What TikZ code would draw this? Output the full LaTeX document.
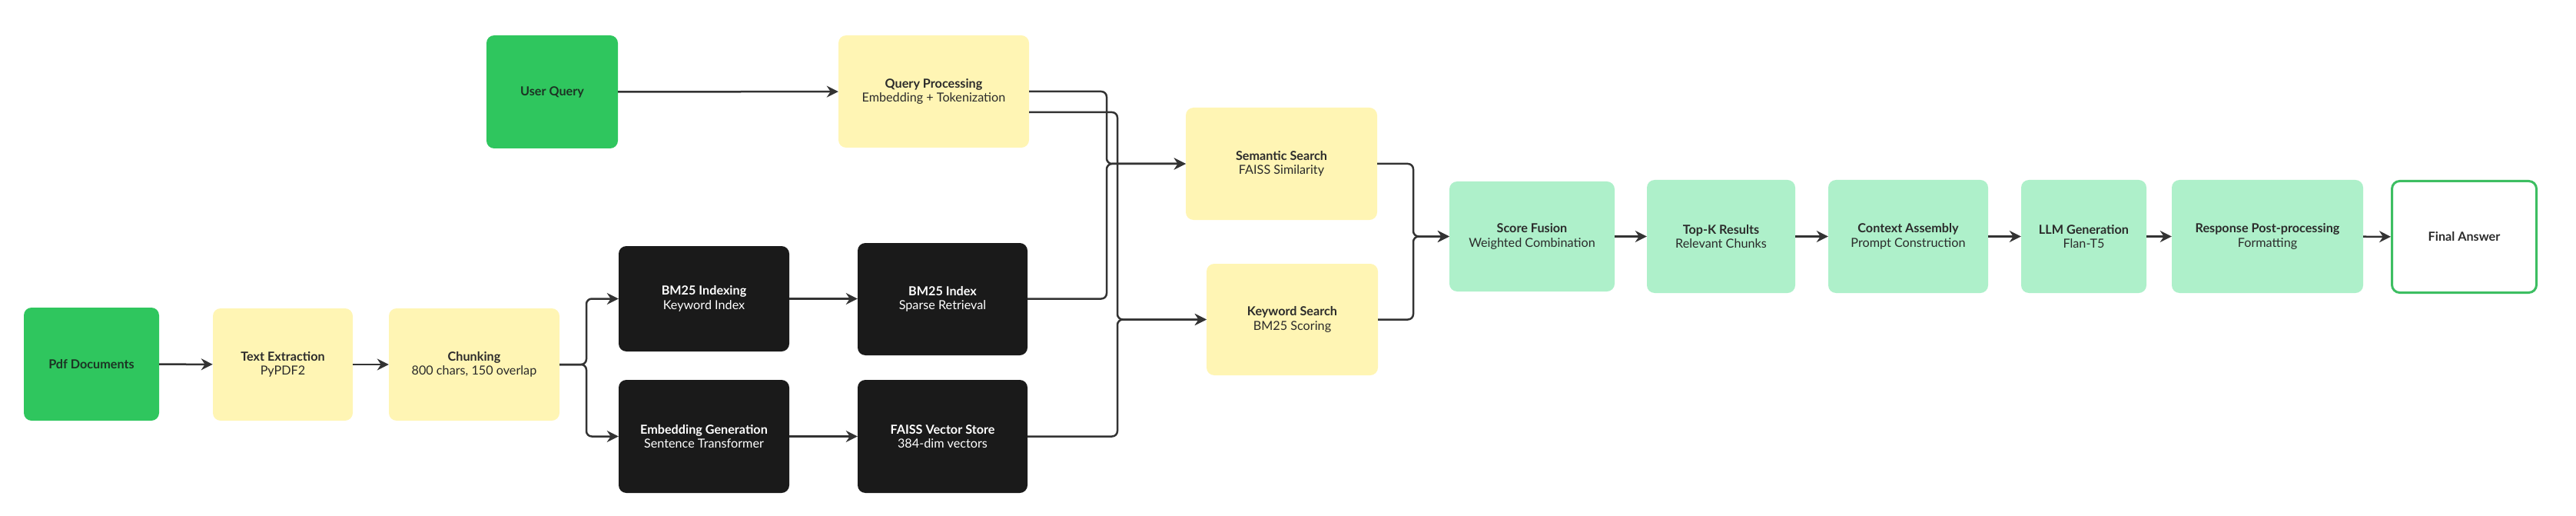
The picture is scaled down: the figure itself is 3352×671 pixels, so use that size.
\documentclass[tikz,border=0pt]{standalone}
\usepackage{fontspec}
\setmainfont{Lato}
\usetikzlibrary{arrows.meta,calc,positioning}

\definecolor{boxgreen}{HTML}{2FC65E}
\definecolor{boxyellow}{HTML}{FFF5B4}
\definecolor{boxmint}{HTML}{AEF0CA}
\definecolor{boxblack}{HTML}{1A1A1A}
\definecolor{linegray}{HTML}{333333}
\definecolor{textdark}{HTML}{2B2B2B}
\definecolor{textgreen}{HTML}{1C3324}
\definecolor{edgegreen}{HTML}{3DBE62}

\begin{document}
\begin{tikzpicture}[x=1pt,y=-1pt,
  every node/.style={align=center,rounded corners=10pt,inner sep=4pt,font=\fontsize{16.2}{18.5}\selectfont},
  greenbox/.style={fill=boxgreen,text=textgreen,minimum height=147},
  yellowbox/.style={fill=boxyellow,text=textdark,minimum height=146},
  blackbox/.style={fill=boxblack,text=white,minimum height=147},
  mintbox/.style={fill=boxmint,text=textdark,minimum height=147},
  outbox/.style={draw=edgegreen,line width=3pt,fill=white,text=textdark,minimum height=145},
  flow/.style={draw=linegray,line width=2.5pt,rounded corners=7pt,-{Stealth[length=15pt,width=15pt]}},
  link/.style={draw=linegray,line width=2.5pt,rounded corners=7pt}]
\useasboundingbox (0,0) rectangle (3352,671);

% input side
\node [greenbox,minimum width=176] (PdfDocs) at (119,473.5) {\textbf{Pdf Documents}};
\node [yellowbox,minimum width=182] (TextExtraction) at (368,474) {\textbf{Text Extraction}\\PyPDF2};
\node [yellowbox,minimum width=222] (Chunking) at (617,474) {\textbf{Chunking}\\800 chars, 150 overlap};
\node [blackbox,minimum width=222,minimum height=137] (BMIndexing) at (916,388.5) {\textbf{BM25 Indexing}\\Keyword Index};
\node [blackbox,minimum width=221,minimum height=146] (BMIndex) at (1226.5,389) {\textbf{BM25 Index}\\Sparse Retrieval};
\node [blackbox,minimum width=222] (EmbGen) at (916,567.5) {\textbf{Embedding Generation}\\Sentence Transformer};
\node [blackbox,minimum width=221] (FaissStore) at (1226.5,567.5) {\textbf{FAISS Vector Store}\\384-dim vectors};

% query side
\node [greenbox,minimum width=171] (UserQuery) at (718.5,119.5) {\textbf{User Query}};
\node [yellowbox,minimum width=248] (QueryProc) at (1215,119) {\textbf{Query Processing}\\Embedding + Tokenization};

% retrieval
\node [yellowbox,minimum width=249] (SemSearch) at (1667.5,213) {\textbf{Semantic Search}\\FAISS Similarity};
\node [yellowbox,minimum width=223,minimum height=145] (KeySearch) at (1681.5,415.5) {\textbf{Keyword Search}\\BM25 Scoring};

% answer side
\node [mintbox,minimum width=215,minimum height=143] (ScoreFusion) at (1993.5,307.5) {\textbf{Score Fusion}\\Weighted Combination};
\node [mintbox,minimum width=193] (TopK) at (2239.5,307.5) {\textbf{Top-K Results}\\Relevant Chunks};
\node [mintbox,minimum width=208] (ContextAsm) at (2483,307.5) {\textbf{Context Assembly}\\Prompt Construction};
\node [mintbox,minimum width=163] (LLMGen) at (2711.5,307.5) {\textbf{LLM Generation}\\Flan-T5};
\node [mintbox,minimum width=249] (PostProc) at (2950.5,307.5) {\textbf{Response Post-processing}\\Formatting};
\node [outbox,minimum width=188] (FinalAnswer) at (3206.5,308) {\textbf{Final Answer}};

% bus lines
\coordinate (ChunkBus) at (763,0);
\coordinate (SemBus) at (1440,0);
\coordinate (KeyBus) at (1454,0);
\coordinate (FuseBus) at (1839,0);

\draw [flow] (PdfDocs) -- (TextExtraction);
\draw [flow] (TextExtraction) -- (Chunking);
\draw [flow] (Chunking.east) -- (Chunking.east -| ChunkBus) |- (BMIndexing.west);
\draw [flow] (Chunking.east) -- (Chunking.east -| ChunkBus) |- (EmbGen.west);
\draw [flow] (BMIndexing) -- (BMIndexing -| BMIndex.west);
\draw [flow] (EmbGen) -- (FaissStore);
\draw [flow] (UserQuery) -- (QueryProc);
\draw [flow] (QueryProc.east) -- (QueryProc.east -| SemBus) |- (SemSearch.west);
\draw [flow] ($(QueryProc.east)+(0,27)$) -- ($(QueryProc.east -| KeyBus)+(0,27)$) |- (KeySearch.west);
\draw [flow] (BMIndexing -| BMIndex.east) -- (BMIndexing -| SemBus) |- (SemSearch.west);
\draw [flow] (FaissStore.east) -- (FaissStore.east -| KeyBus) |- (KeySearch.west);
\draw [flow] (SemSearch.east) -- (SemSearch.east -| FuseBus) |- (ScoreFusion.west);
\draw [flow] (KeySearch.east) -- (KeySearch.east -| FuseBus) |- (ScoreFusion.west);
\draw [flow] (ScoreFusion) -- (TopK);
\draw [flow] (TopK) -- (ContextAsm);
\draw [flow] (ContextAsm) -- (LLMGen);
\draw [flow] (LLMGen) -- (PostProc);
\draw [flow] (PostProc) -- (FinalAnswer);
\end{tikzpicture}
\end{document}
